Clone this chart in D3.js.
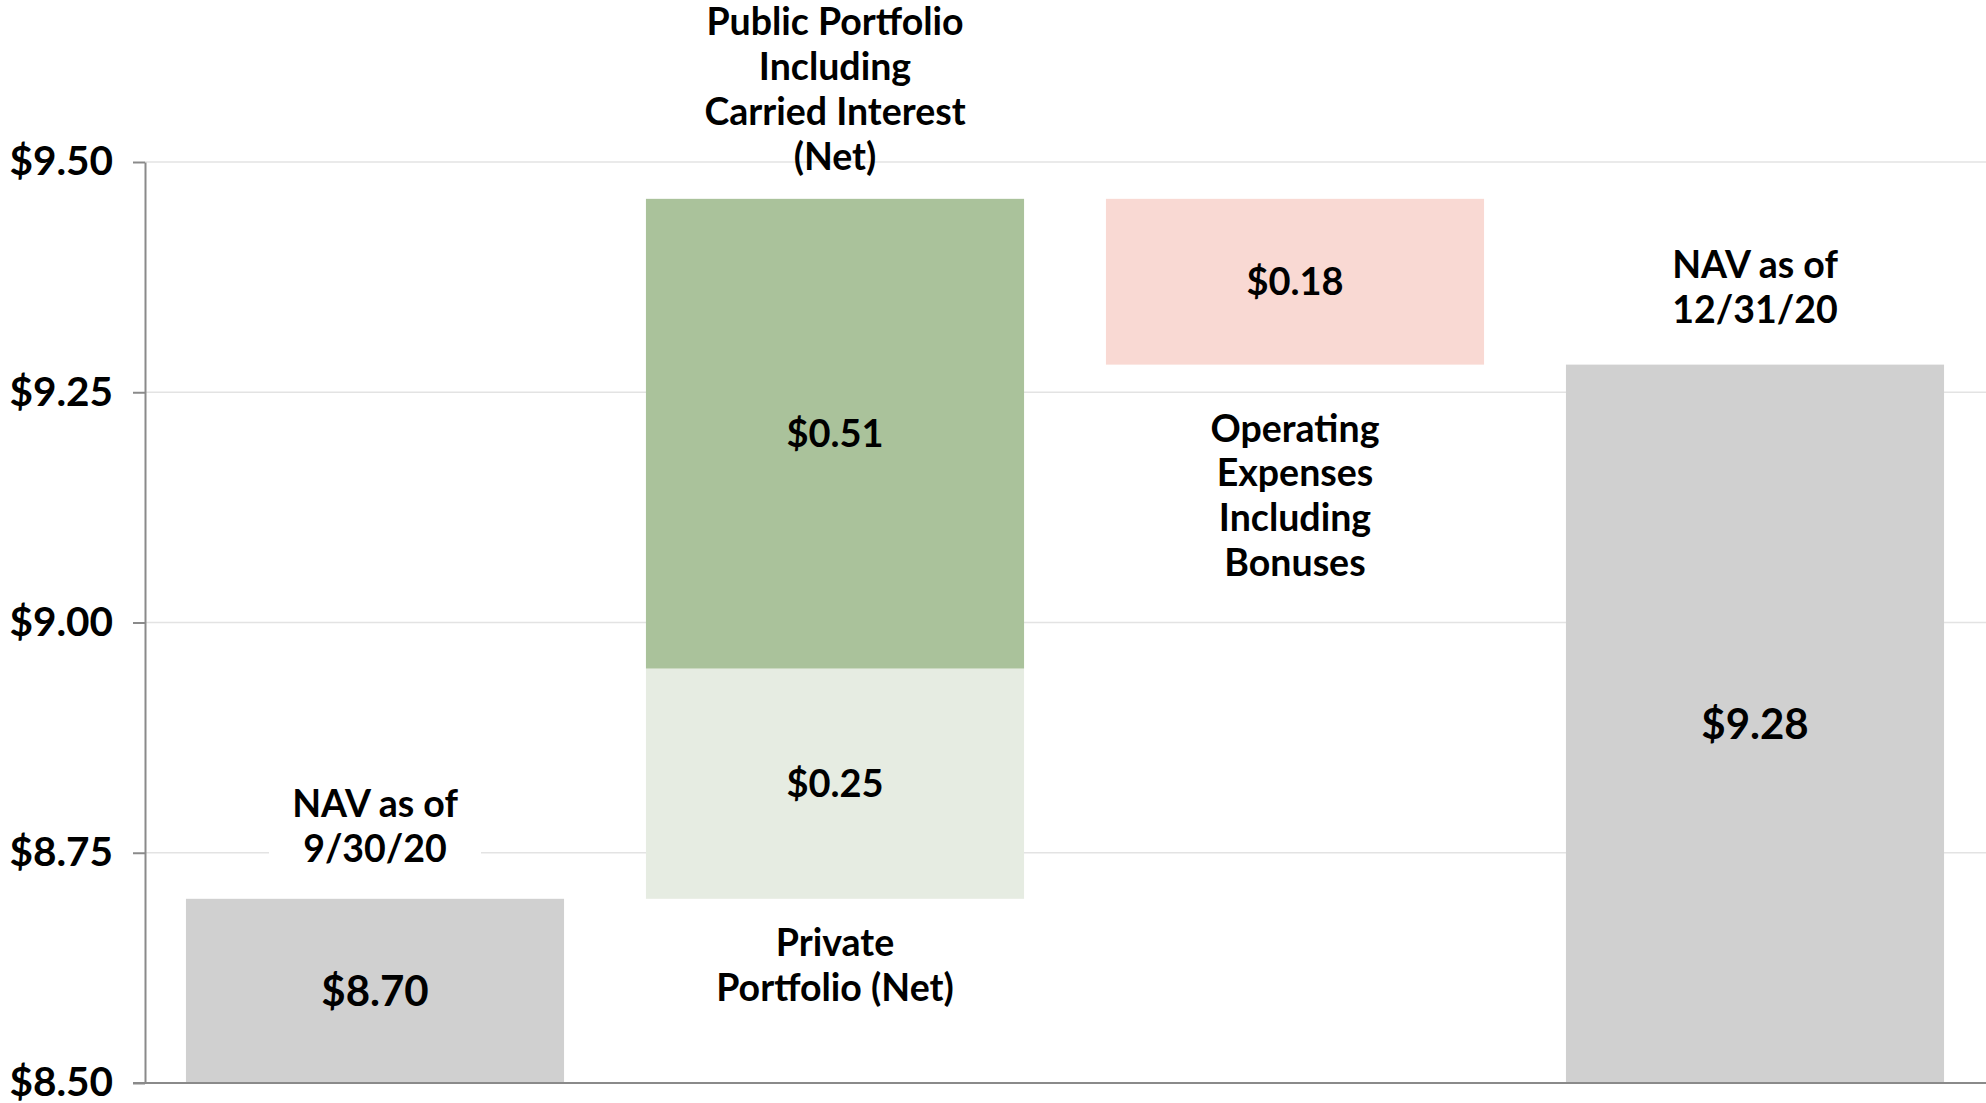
<!DOCTYPE html>
<html>
<head>
<meta charset="utf-8">
<script src="https://cdn.jsdelivr.net/npm/d3@7"></script>
<style>
  html, body { margin: 0; padding: 0; background: #ffffff; }
  svg { display: block; font-family: Lato, "Open Sans", sans-serif; }
</style>
</head>
<body>
<svg id="chart" width="1986" height="1103"></svg>
<script>
// ---- data ----
const steps = ["NAV as of 9/30/20", "Private Portfolio (Net)", "Public Portfolio Including Carried Interest (Net)", "Operating Expenses Including Bonuses", "NAV as of 12/31/20"];
const stepValues = [8.70, 0.25, 0.51, -0.18, 9.28];
const stepKinds = ["total", "delta", "delta", "delta", "total"];
const stepColumns = ["c0", "c1", "c1", "c2", "c3"];
const columns = ["c0", "c1", "c2", "c3"];
const labelLines = [["NAV as of", "9/30/20"], ["Private", "Portfolio (Net)"], ["Public Portfolio", "Including", "Carried Interest", "(Net)"], ["Operating", "Expenses", "Including", "Bonuses"], ["NAV as of", "12/31/20"]];
const valueLabels = ["$8.70", "$0.25", "$0.51", "$0.18", "$9.28"];
const yTicks = [8.50, 8.75, 9.00, 9.25, 9.50];
const yDomain = [8.50, 9.50];

// ---- layout / style ----
const colors = ["#d0d0d0", "#e6ece2", "#aac29b", "#f9d9d3", "#d0d0d0"];
const labelSide = ["above", "below", "above", "below", "above"];
const labelGap = [37, 57, 29, 77, 42];
const lineH = 44.8;
const fontSize = 37.5;

const svg = d3.select("#chart");
const y = d3.scaleLinear().domain(yDomain).range([1083, 162]);
const x = d3.scaleBand().domain(columns).range([145, 1985]).paddingInner(0.178).paddingOuter(0.089);

// compute segments
let running = 0;
const segs = steps.map((s, i) => {
  let y0, y1;
  if (stepKinds[i] === "total") { y0 = yDomain[0]; y1 = stepValues[i]; running = stepValues[i]; }
  else { y0 = running; y1 = running + stepValues[i]; running = y1; }
  return { i, name: s, lo: Math.min(y0, y1), hi: Math.max(y0, y1), col: stepColumns[i] };
});

// gridlines
svg.append("g").selectAll("line").data(yTicks.filter(t => t > yDomain[0])).join("line")
  .attr("x1", 145).attr("x2", 1986)
  .attr("y1", d => y(d)).attr("y2", d => y(d))
  .attr("stroke", "#e3e3e3").attr("stroke-width", 1.5);

// bars
svg.append("g").selectAll("rect").data(segs).join("rect")
  .attr("x", d => x(d.col))
  .attr("width", x.bandwidth())
  .attr("y", d => y(d.hi))
  .attr("height", d => y(d.lo) - y(d.hi))
  .attr("fill", d => colors[d.i]);

// value labels
svg.append("g").selectAll("text").data(segs).join("text")
  .attr("x", d => x(d.col) + x.bandwidth() / 2)
  .attr("y", d => (y(d.lo) + y(d.hi)) / 2)
  .attr("dy", "0.36em")
  .attr("text-anchor", "middle")
  .attr("font-size", d => (stepKinds[d.i] === "total" ? 42 : 38))
  .attr("font-weight", 700)
  .attr("fill", "#000")
  .text(d => valueLabels[d.i]);

// category labels
const lg = svg.append("g");
segs.forEach(d => {
  const lines = labelLines[d.i];
  const cx = x(d.col) + x.bandwidth() / 2;
  let firstBase;
  if (labelSide[d.i] === "above") {
    const lastBase = y(d.hi) - labelGap[d.i];
    firstBase = lastBase - (lines.length - 1) * lineH;
  } else {
    firstBase = y(d.lo) + labelGap[d.i];
  }
  if (d.i === 0) {
    lg.append("rect")
      .attr("x", cx - 106).attr("width", 212)
      .attr("y", firstBase - 34).attr("height", (lines.length - 1) * lineH + 46)
      .attr("fill", "#ffffff");
  }
  const t = lg.append("text")
    .attr("text-anchor", "middle")
    .attr("font-size", fontSize)
    .attr("font-weight", 700)
    .attr("fill", "#000");
  lines.forEach((ln, k) => {
    t.append("tspan").attr("x", cx).attr("y", firstBase + k * lineH).text(ln);
  });
});

// y axis
const axis = d3.axisLeft(y).tickValues(yTicks).tickSize(12).tickSizeOuter(0).tickPadding(20)
  .tickFormat(d3.format("$.2f"));
const ag = svg.append("g").attr("transform", "translate(145,0)").call(axis);
ag.select(".domain").attr("stroke", "#8a8a8a").attr("stroke-width", 2);
ag.selectAll(".tick line").attr("stroke", "#8a8a8a").attr("stroke-width", 2);
ag.selectAll(".tick text").attr("font-size", 40.5).attr("font-weight", 700).attr("fill", "#000")
  .attr("font-family", "Lato, 'Open Sans', sans-serif");

// baseline axis
svg.append("line").attr("x1", 133).attr("x2", 1986)
  .attr("y1", y(yDomain[0])).attr("y2", y(yDomain[0]))
  .attr("stroke", "#8a8a8a").attr("stroke-width", 2);
</script>
</body>
</html>
